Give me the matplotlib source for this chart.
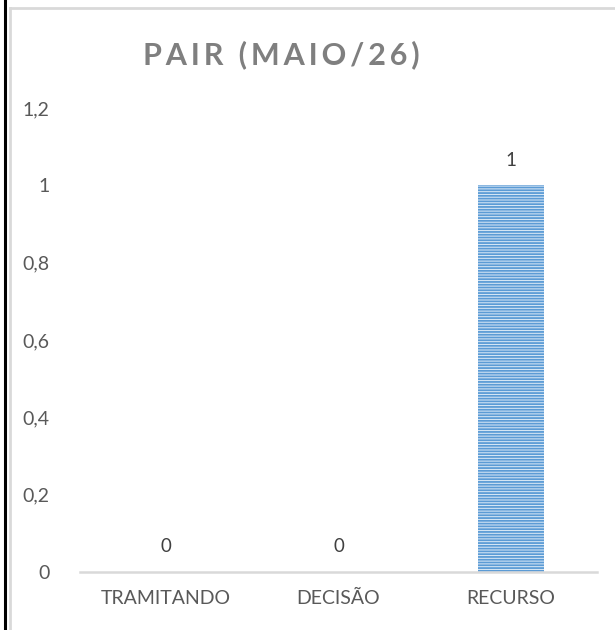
import matplotlib.pyplot as plt
from matplotlib.lines import Line2D
import numpy as np

categories = ['TRAMITANDO', 'DECISÃO', 'RECURSO']
values = [0, 0, 1]
y_ticks = [0, 0.2, 0.4, 0.6, 0.8, 1, 1.2]
y_tick_labels = ['0', '0,2', '0,4', '0,6', '0,8', '1', '1,2']
title = 'PAIR (MAIO/26)'

plt.rcParams['font.family'] = ['Lato', 'DejaVu Sans']
plt.rcParams['hatch.linewidth'] = 1.3

fig = plt.figure(figsize=(6.15, 6.3), dpi=100)
ax = fig.add_axes([80 / 615, 1 - 572 / 630, 517 / 615, (572 - 108) / 630])

x = np.arange(len(categories))
bars = ax.bar(x, values, width=0.38, color='#DEEBF7', edgecolor='#5B9BD5',
              hatch='------', linewidth=0)

for xi, v in zip(x, values):
    ax.annotate(f"{v}", (xi, v), xytext=(0, 12), textcoords='offset points',
                ha='center', va='bottom', fontsize=13.5, color='#404040')

ax.set_xlim(-0.5, len(categories) - 0.5)
ax.set_ylim(0, 1.2)
ax.set_yticks(y_ticks)
ax.set_yticklabels(y_tick_labels, fontsize=14, color='#595959')
ax.set_xticks(x)
ax.set_xticklabels(categories, fontsize=14, color='#595959')
ax.tick_params(axis='both', length=0)
ax.tick_params(axis='y', pad=22)
ax.tick_params(axis='x', pad=13)

for s in ['top', 'right', 'left']:
    ax.spines[s].set_visible(False)
ax.spines['bottom'].set_color('#D9D9D9')
ax.spines['bottom'].set_linewidth(1.8)

# letter-spaced title
spaced_title = '\u2009'.join(title)
fig.text(281 / 615, 1 - 55 / 630, spaced_title, ha='center', va='center',
         fontsize=22, fontweight='bold', color='#7F7F7F')

# frame lines like the screenshot
fig.add_artist(Line2D([5 / 615, 5 / 615], [0, 1], color='black', linewidth=2.2))
fig.add_artist(Line2D([10 / 615, 1], [1 - 8 / 630, 1 - 8 / 630], color='#D9D9D9', linewidth=2))
fig.add_artist(Line2D([10 / 615, 10 / 615], [0, 1 - 8 / 630], color='#D9D9D9', linewidth=2))

plt.savefig('out.png', dpi=100)
